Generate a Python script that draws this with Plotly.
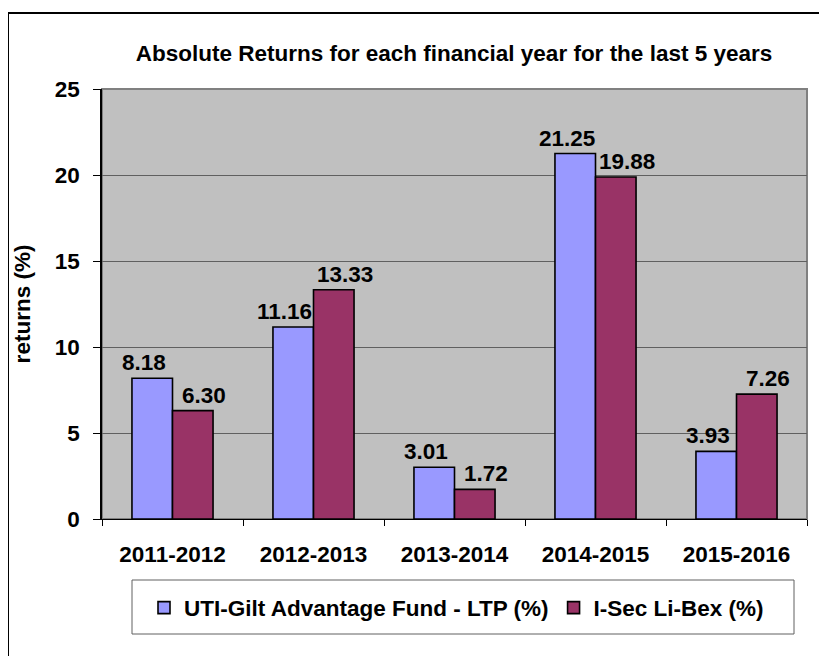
import plotly.graph_objects as go

categories = ["2011-2012", "2012-2013", "2013-2014", "2014-2015", "2015-2016"]
uti_gilt = [8.18, 11.16, 3.01, 21.25, 3.93]
isec_libex = [6.30, 13.33, 1.72, 19.88, 7.26]
series_names = ["UTI-Gilt Advantage Fund - LTP (%)", "I-Sec Li-Bex (%)"]
series_colors = ["#9999FF", "#993366"]
title_text = "Absolute Returns for each financial year for the last 5 years"
y_title = "returns (%)"
y_ticks = [0, 5, 10, 15, 20, 25]

OFF = 8  # page body margin
W, H = 827 - OFF, 656 - OFF
L, R, T, B = 102 - OFF, 807 - OFF, 89 - OFF, 519 - OFF  # plot area (figure px)
pw, ph = R - L, B - T

def px(x):  # page px -> paper
    return (x - OFF - L) / pw

def py(y):
    return (B - (y - OFF)) / ph

FONT = "Liberation Sans, Arial, sans-serif"
font_b = dict(family=FONT, size=22.5, color="black", weight="bold")

fig = go.Figure()
for name, vals, col in zip(series_names, [uti_gilt, isec_libex], series_colors):
    fig.add_trace(go.Bar(
        x=categories, y=vals, name=name,
        marker=dict(color=col, line=dict(color="black", width=1.6)),
        cliponaxis=False,
    ))

# value labels, nudged sideways like the original so neighbours don't collide
annotations = []
for vals, shift in [(uti_gilt, -29), (isec_libex, 31)]:
    for c, v in zip(categories, vals):
        annotations.append(dict(x=c, y=v, xref="x", yref="y", text=f"{v:.2f}",
                                showarrow=False, xanchor="center", yanchor="bottom",
                                xshift=shift, yshift=1, font=font_b))

fig.update_layout(
    width=W, height=H,
    margin=dict(l=L, r=W - R, t=T, b=H - B, autoexpand=False),
    paper_bgcolor="white", plot_bgcolor="#C0C0C0",
    barmode="group", bargap=0.425, bargroupgap=0,
    title=dict(text=title_text, font=dict(family=FONT, size=22.5, color="black", weight="bold"),
               x=px(454), xref="paper", xanchor="center",
               y=1 - (53 - OFF) / H, yref="container", yanchor="middle"),
    font=font_b,
    showlegend=True,
    legend=dict(orientation="h", x=px(144), xanchor="left", y=py(608), yanchor="middle",
                bgcolor="rgba(0,0,0,0)", borderwidth=0, font=font_b,
                itemwidth=30, traceorder="normal"),
    annotations=annotations,
    xaxis=dict(showline=True, linecolor="black", linewidth=1,
               ticks="outside", ticklen=6, tickcolor="black", tickwidth=1,
               tickson="boundaries", tickfont=font_b, ticklabelstandoff=15,
               showgrid=False, zeroline=False),
    yaxis=dict(range=[0, 25], tickvals=y_ticks, showline=True, linecolor="black", linewidth=1.5,
               ticks="outside", ticklen=7, tickcolor="black", tickwidth=1,
               tickfont=font_b, ticklabelstandoff=9,
               showgrid=True, gridcolor="#606060", gridwidth=1, zeroline=False,
               title=dict(text=y_title, font=font_b, standoff=18)),
    shapes=[
        dict(type="rect", xref="paper", yref="paper", x0=0, x1=1, y0=0, y1=1,
             line=dict(color="#808080", width=2), layer="below"),
        dict(type="rect", xref="paper", yref="paper", x0=px(132), x1=px(794),
             y0=py(634), y1=py(580), line=dict(color="#606060", width=1), layer="above"),
        dict(type="rect", xref="paper", yref="paper", x0=px(8), x1=px(845),
             y0=py(680), y1=py(13), line=dict(color="black", width=2), layer="above"),
    ],
)

fig.write_html("out.html")
